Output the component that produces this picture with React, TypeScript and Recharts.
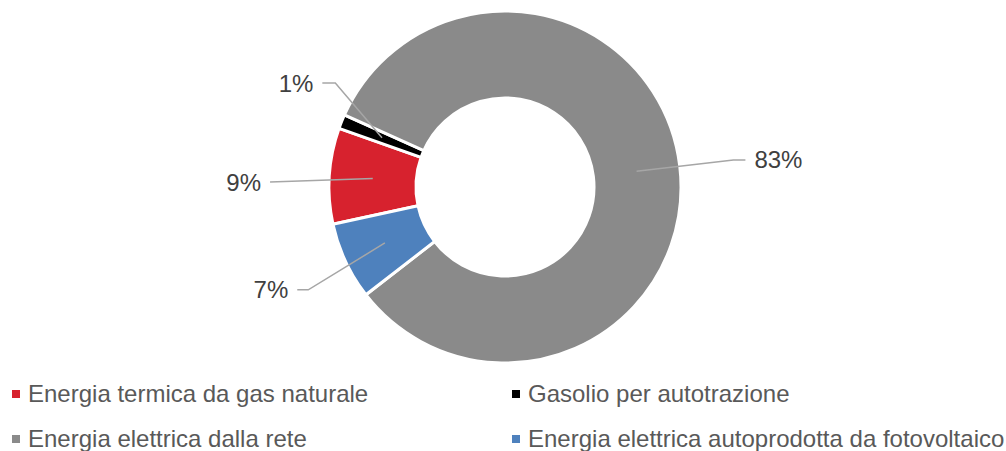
import { PieChart, Pie, Cell, Legend } from "recharts";

const categories = [
  "Energia termica da gas naturale",
  "Gasolio per autotrazione",
  "Energia elettrica dalla rete",
  "Energia elettrica autoprodotta da fotovoltaico",
];
const shares = [8.8, 1.3, 82.8, 7.1];
const colors = ["#D7222E", "#000000", "#8A8A8A", "#4E81BD"];

// where each leader line bends (polar, from centre) and how long its tail is
const elbows = [
  { angle: 178.8, r: 235, tail: 0 },
  { angle: 148.5, r: 199, tail: -13 },
  { angle: 6.75, r: 230, tail: 12 },
  { angle: 207.6, r: 222, tail: -11 },
];

const FONT = "Arial, 'Liberation Sans', sans-serif";
const RAD = Math.PI / 180;

const data = categories.map((name, i) => ({ name, value: shares[i] }));

function polar(cx: number, cy: number, r: number, angle: number) {
  return { x: cx + r * Math.cos(-angle * RAD), y: cy + r * Math.sin(-angle * RAD) };
}

function renderLabel(props: any) {
  const { cx, cy, midAngle, innerRadius, outerRadius, percent, index } = props;
  const e = elbows[index];
  const start = polar(cx, cy, (innerRadius + outerRadius) / 2, midAngle);
  const bend = polar(cx, cy, e.r, e.angle);
  const endX = bend.x + e.tail;
  const left = e.tail < 0 || (e.tail === 0 && bend.x < cx);
  return (
    <g key={`lbl-${index}`}>
      <polyline
        points={`${start.x},${start.y} ${bend.x},${bend.y} ${endX},${bend.y}`}
        fill="none"
        stroke="#A6A6A6"
        strokeWidth={1.5}
      />
      <text
        x={left ? endX - 9 : endX + 9}
        y={bend.y}
        textAnchor={left ? "end" : "start"}
        dominantBaseline="central"
        fill="#404040"
        fontSize={24}
        fontFamily={FONT}
      >
        {`${Math.round(percent * 100)}%`}
      </text>
    </g>
  );
}

function renderLegend() {
  return (
    <div
      style={{
        display: "grid",
        gridTemplateColumns: "500px 500px",
        fontFamily: FONT,
        fontSize: 24,
        lineHeight: "45px",
        color: "#595959",
        paddingLeft: 12,
      }}
    >
      {categories.map((name, i) => (
        <div key={name} style={{ display: "flex", alignItems: "center", whiteSpace: "nowrap" }}>
          <span style={{ width: 8, height: 8, background: colors[i], marginRight: 8, flex: "none" }} />
          {name}
        </div>
      ))}
    </div>
  );
}

export default function App() {
  return (
    <div style={{ position: "absolute", left: 0, top: 0, background: "#fff" }}>
      <PieChart width={1006} height={451} margin={{ top: 0, right: 0, bottom: 0, left: 0 }}>
        <Pie
          data={data}
          dataKey="value"
          nameKey="name"
          cx={505}
          cy={187}
          innerRadius={89}
          outerRadius={176}
          startAngle={192.2}
          endAngle={-167.8}
          stroke="#FFFFFF"
          strokeWidth={3}
          label={renderLabel}
          labelLine={false}
          isAnimationActive={false}
        >
          {data.map((_, i) => (
            <Cell key={i} fill={colors[i]} />
          ))}
        </Pie>
        <Legend
          content={renderLegend}
          wrapperStyle={{ left: 0, top: 371, width: 1006 }}
        />
      </PieChart>
    </div>
  );
}
